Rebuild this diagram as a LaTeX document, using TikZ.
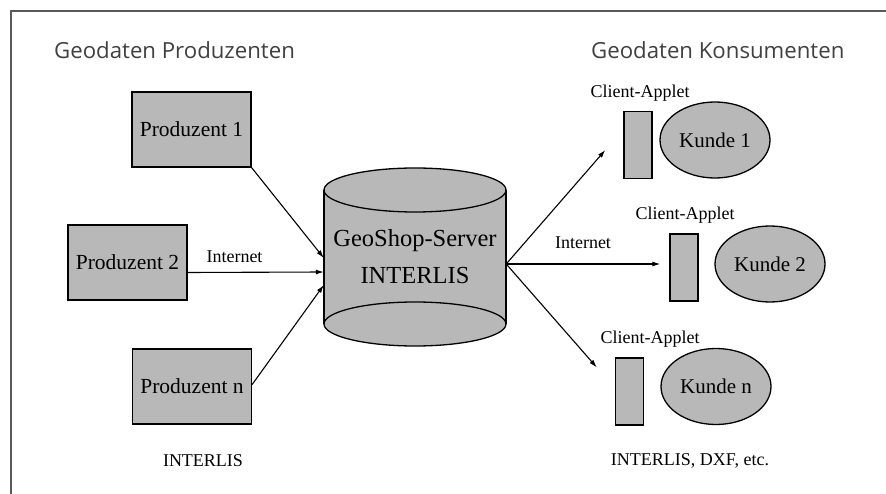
\documentclass[tikz,border=0pt]{standalone}
\usepackage{fontspec}
\setmainfont{Liberation Serif}
\newfontfamily\titlefont{Open Sans}
\usetikzlibrary{arrows.meta,shapes.geometric}
\definecolor{shopgray}{gray}{0.72}
\definecolor{framegray}{gray}{0.35}

\begin{document}
\begin{tikzpicture}[x=1pt, y=-1pt,
    box/.style={draw, fill=shopgray, line width=1.3pt, minimum width=119pt, minimum height=75pt, inner sep=0pt, font=\fontsize{21.5}{25}\selectfont},
    applet/.style={draw, fill=shopgray, line width=1.3pt, minimum width=28pt, minimum height=67pt, inner sep=0pt},
    kunde/.style={draw, fill=shopgray, ellipse, line width=1.3pt, minimum width=110pt, minimum height=76pt, inner sep=0pt, font=\fontsize{21}{25}\selectfont},
    lbl/.style={inner sep=0pt, font=\fontsize{18}{22}\selectfont},
    heading/.style={inner sep=0pt, anchor=west, text=black!75, font=\titlefont\fontsize{22.2}{26}\selectfont},
    link/.style={line width=1.1pt, -{Latex[length=8pt,width=5pt]}}]
    \useasboundingbox (0,0) rectangle (886,494);

    % Frame
    \draw[framegray, line width=1.4pt] (11,494) -- (11,11) -- (886,11);

    % Headings
    \node[heading] (prodtitle) at (54,50) {Geodaten Produzenten};
    \node[heading] (konstitle) at (591,50) {Geodaten Konsumenten};

    % Producers
    \node[box] (p1) at (191.5,129.5) {Produzent 1};
    \node[box] (p2) at (127.5,262.5) {Produzent 2};
    \node[box] (pn) at (192,386.5) {Produzent n};

    % Server cylinder
    \fill[shopgray] (324,190) rectangle (506,324);
    \draw[fill=shopgray, line width=1.3pt] (415,324) ellipse [x radius=91, y radius=22];
    \draw[fill=shopgray, line width=1.3pt] (415,190) ellipse [x radius=91, y radius=22];
    \draw[line width=1.3pt] (324,190) -- (324,324) (506,190) -- (506,324);
    \node[inner sep=0pt, minimum width=182pt, minimum height=134pt, align=center, font=\fontsize{24.5}{37}\selectfont] (server) at (415,257) {GeoShop-Server\\INTERLIS};

    % Consumers
    \node[applet] (app1) at (638,145) {};
    \node[kunde] (k1) at (715,140) {Kunde 1};
    \node[applet] (app2) at (684,267.5) {};
    \node[kunde] (k2) at (770,264) {Kunde 2};
    \node[applet] (app3) at (629.5,391.5) {};
    \node[kunde] (kn) at (716,386.5) {Kunde n};

    \node[lbl] (app1lbl) at (640,93) {Client-Applet};
    \node[lbl] (app2lbl) at (685,215) {Client-Applet};
    \node[lbl] (app3lbl) at (650,339) {Client-Applet};

    % Connections
    \draw[link] (p1.south east) -- ([yshift=-1pt]server.west);
    \draw[link] ([yshift=-10pt]p2.east) -- ([yshift=-15pt]server.west);
    \draw[link] ([yshift=2pt]pn.east) -- ([yshift=-28pt]server.west);
    \draw[link] ([yshift=-7pt]server.east) -- ([xshift=-18pt,yshift=-5pt]app1.west);
    \draw[link] ([yshift=-7pt]server.east) -- ([xshift=-9pt,yshift=3.5pt]app2.west);
    \draw[link] ([yshift=-7pt]server.east) -- ([xshift=-18pt,yshift=24pt]app3.west);

    \node[lbl] (netleft) at (234.5,257) {Internet};
    \node[lbl] (netright) at (583,243) {Internet};

    % Formats
    \node[lbl] (fmtprod) at (203,461) {INTERLIS};
    \node[lbl] (fmtkons) at (690,461) {INTERLIS, DXF, etc.};

\end{tikzpicture}
\end{document}
